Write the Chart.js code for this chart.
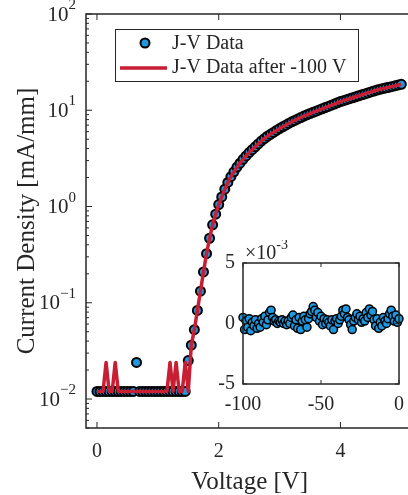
<!DOCTYPE html>
<html lang="en">
<head>
  <meta charset="UTF-8">
  <title>J-V Data</title>
  <script src="https://cdn.jsdelivr.net/npm/chart.js"></script>
  <style>
    html, body { margin: 0; padding: 0; background: #fff; overflow: hidden; width: 408px; height: 495px; }
    #main { position: absolute; left: 0; top: 0; }
    #inset { position: absolute; left: 200px; top: 240px; }
  </style>
</head>
<body>
  <canvas id="main" width="420" height="495"></canvas>
  <canvas id="inset" width="208" height="200"></canvas>

  <script>
    // Forward sweep voltage [V]
    const voltage = [
      0, 0.05, 0.1, 0.15, 0.2, 0.25, 0.3, 0.35, 0.4, 0.45,
      0.5, 0.55, 0.6, 0.65, 0.7, 0.75, 0.8, 0.85, 0.9, 0.95,
      1, 1.05, 1.1, 1.15, 1.2, 1.25, 1.3, 1.35, 1.4, 1.45,
      1.5, 1.55, 1.6, 1.65, 1.7, 1.75, 1.8, 1.85, 1.9, 1.95,
      2, 2.05, 2.1, 2.15, 2.2, 2.25, 2.3, 2.35, 2.4, 2.45,
      2.5, 2.55, 2.6, 2.65, 2.7, 2.75, 2.8, 2.85, 2.9, 2.95,
      3, 3.05, 3.1, 3.15, 3.2, 3.25, 3.3, 3.35, 3.4, 3.45,
      3.5, 3.55, 3.6, 3.65, 3.7, 3.75, 3.8, 3.85, 3.9, 3.95,
      4, 4.05, 4.1, 4.15, 4.2, 4.25, 4.3, 4.35, 4.4, 4.45,
      4.5, 4.55, 4.6, 4.65, 4.7, 4.75, 4.8, 4.85, 4.9, 4.95,
      5
    ];

    // Current density [mA/mm]
    const jvData = [
      0.012, 0.012, 0.012, 0.012, 0.012, 0.012, 0.012, 0.012, 0.012, 0.012,
      0.012, 0.012, 0.012, 0.024, 0.012, 0.012, 0.012, 0.012, 0.012, 0.012,
      0.012, 0.012, 0.012, 0.012, 0.012, 0.012, 0.012, 0.012, 0.012, 0.012,
      0.0251, 0.0363, 0.0525, 0.0832, 0.132, 0.209, 0.324, 0.468, 0.646, 0.832,
      1.047, 1.259, 1.514, 1.778, 2.042, 2.291, 2.570, 2.818, 3.090, 3.350,
      3.63, 3.89, 4.17, 4.47, 4.79, 5.07, 5.37, 5.62, 5.89, 6.17,
      6.46, 6.73, 7.00, 7.29, 7.59, 7.85, 8.13, 8.41, 8.71, 8.97,
      9.25, 9.51, 9.77, 10.07, 10.35, 10.66, 10.96, 11.30, 11.61, 11.97,
      12.30, 12.59, 12.88, 13.18, 13.49, 13.80, 14.13, 14.45, 14.79, 15.14,
      15.49, 15.85, 16.22, 16.52, 16.79, 17.10, 17.38, 17.70, 17.99, 18.32,
      18.62
    ];

    const jvAfter = [
      0.012, 0.012, 0.012, 0.024, 0.012, 0.012, 0.024, 0.012, 0.012, 0.012,
      0.012, 0.012, 0.012, 0.012, 0.012, 0.012, 0.012, 0.012, 0.012, 0.012,
      0.012, 0.012, 0.012, 0.012, 0.024, 0.012, 0.024, 0.012, 0.012, 0.024,
      0.012, 0.0363, 0.0525, 0.0832, 0.132, 0.209, 0.324, 0.468, 0.646, 0.832,
      1.047, 1.259, 1.514, 1.778, 2.042, 2.291, 2.570, 2.818, 3.090, 3.350,
      3.63, 3.89, 4.17, 4.47, 4.79, 5.07, 5.37, 5.62, 5.89, 6.17,
      6.46, 6.73, 7.00, 7.29, 7.59, 7.85, 8.13, 8.41, 8.71, 8.97,
      9.25, 9.51, 9.77, 10.07, 10.35, 10.66, 10.96, 11.30, 11.61, 11.97,
      12.30, 12.59, 12.88, 13.18, 13.49, 13.80, 14.13, 14.45, 14.79, 15.14,
      15.49, 15.85, 16.22, 16.52, 16.79, 17.10, 17.38, 17.70, 17.99, 18.32,
      18.62
    ];

    // Inset: reverse sweep to -100 V, current in units of 1e-3 mA/mm
    const insetVoltage = [
      -100, -99, -98, -97, -96, -95, -94, -93, -92, -91,
      -90, -89, -88, -87, -86, -85, -84, -83, -82, -81,
      -80, -79, -78, -77, -76, -75, -74, -73, -72, -71,
      -70, -69, -68, -67, -66, -65, -64, -63, -62, -61,
      -60, -59, -58, -57, -56, -55, -54, -53, -52, -51,
      -50, -49, -48, -47, -46, -45, -44, -43, -42, -41,
      -40, -39, -38, -37, -36, -35, -34, -33, -32, -31,
      -30, -29, -28, -27, -26, -25, -24, -23, -22, -21,
      -20, -19, -18, -17, -16, -15, -14, -13, -12, -11,
      -10, -9, -8, -7, -6, -5, -4, -3, -2, -1,
      0
    ];
    const insetJ = [
      0.5, -0.5, 0.2, -0.3, 0.4, -0.6, 0.1, -0.2, 0.3, -0.4,
      0.0, -0.3, 0.4, 0.1, 0.6, -0.1, 0.3, 0.9, 1.1, 0.5,
      0.2, 0.3, 0.0, 0.2, 0.1, 0.3, 0.0, 0.2, -0.1, 0.2,
      0.0, 0.5, 0.7, -0.2, 0.3, -0.4, 0.5, -0.5, 0.2, 0.6,
      0.3, -0.3, 0.4, 0.8, 1.0, 1.4, 1.1, 0.5, 0.9, 0.2,
      0.6, -0.1, 0.4, 0.0, 0.3, 0.1, -0.2, 0.3, -0.5, 0.2,
      0.4, 0.0, 0.3, 0.6, 1.1, 0.8, 1.2, 0.5, 0.3, -0.1,
      -0.5, 0.2, 0.5, 0.8, 0.3, 0.6, 0.1, 0.4, 0.2, 0.9,
      0.5, 1.2, 0.7, 1.0, 0.3, -0.2, 0.4, -0.4, 0.1, -0.2,
      0.5, 0.2, 0.0, 0.4, 0.8, 1.1, 0.6, 0.2, 0.7, 0.1,
      0.4
    ];

    const xTicks = [0, 2, 4];
    const xTickLabels = ['0', '2', '4'];
    const yTicks = [0.01, 0.1, 1, 10, 100];
    const yTickExps = ['\u22122', '\u22121', '0', '1', '2'];
    const insetXTicks = [-100, -50, 0];
    const insetXTickLabels = ['-100', '-50', '0'];
    const insetYTicks = [-5, 0, 5];
    const insetYTickLabels = ['-5', '0', '5'];
    const legendLabels = ['J-V Data', 'J-V Data after -100 V'];

    const FONT = "'Liberation Serif', 'Times New Roman', serif";
    const INK = '#262626';
    const BLUE = '#1f98e0';
    const RED = '#c81e34';

    function pts(xs, ys) {
      return xs.map((v, i) => ({ x: v, y: ys[i] }));
    }

    // "10" with a raised exponent, right aligned on xRight
    function supLabel(ctx, base, exp, xRight, yMid, size, expSize) {
      ctx.font = size + 'px ' + FONT;
      const wb = ctx.measureText(base).width;
      ctx.font = expSize + 'px ' + FONT;
      const we = ctx.measureText(exp).width;
      const x0 = xRight - wb - we;
      ctx.textAlign = 'left';
      ctx.textBaseline = 'alphabetic';
      ctx.font = size + 'px ' + FONT;
      ctx.fillText(base, x0, yMid + 12.5);
      ctx.font = expSize + 'px ' + FONT;
      ctx.fillText(exp, x0 + wb, yMid + 1);
    }

    const mainFrame = {
      id: 'mainFrame',
      afterDraw(chart) {
        const { ctx, chartArea: a } = chart;
        const x = chart.scales.x, y = chart.scales.y;
        ctx.save();

        // box
        ctx.strokeStyle = INK;
        ctx.lineWidth = 1.5;
        ctx.strokeRect(a.left, a.top, a.right - a.left, a.bottom - a.top);

        // ticks (inward); the right side falls outside the picture
        ctx.lineWidth = 1;
        ctx.beginPath();
        xTicks.forEach(v => {
          const px = x.getPixelForValue(v);
          ctx.moveTo(px, a.bottom); ctx.lineTo(px, a.bottom - 6);
          ctx.moveTo(px, a.top); ctx.lineTo(px, a.top + 6);
        });
        for (let e = -3; e <= 2; e++) {
          for (let m = 1; m <= 9; m++) {
            const v = m * Math.pow(10, e);
            if (v < y.min * 0.999 || v > y.max * 1.001) continue;
            const py = y.getPixelForValue(v);
            const len = m === 1 ? 6 : 3;
            ctx.moveTo(a.left, py); ctx.lineTo(a.left + len, py);
          }
        }
        ctx.stroke();

        // tick labels
        ctx.fillStyle = INK;
        ctx.font = '20px ' + FONT;
        ctx.textAlign = 'center';
        ctx.textBaseline = 'middle';
        xTicks.forEach((v, i) => ctx.fillText(xTickLabels[i], x.getPixelForValue(v), 452));
        yTicks.forEach((v, i) => supLabel(ctx, '10', yTickExps[i], 76, y.getPixelForValue(v) - 6, 21, 15));

        // axis titles
        ctx.font = '25px ' + FONT;
        ctx.textAlign = 'center';
        ctx.textBaseline = 'middle';
        ctx.fillText('Voltage [V]', (a.left + a.right) / 2, 482);
        ctx.save();
        ctx.translate(27, (a.top + a.bottom) / 2);
        ctx.rotate(-Math.PI / 2);
        ctx.fillText('Current Density [mA/mm]', 0, 0);
        ctx.restore();

        // legend
        ctx.fillStyle = '#fff';
        ctx.fillRect(115, 29, 243, 52);
        ctx.strokeStyle = INK;
        ctx.lineWidth = 1;
        ctx.strokeRect(115.5, 29.5, 243, 52);
        ctx.beginPath();
        ctx.arc(145, 43, 4.5, 0, Math.PI * 2);
        ctx.fillStyle = BLUE;
        ctx.fill();
        ctx.lineWidth = 2;
        ctx.strokeStyle = '#000';
        ctx.stroke();
        ctx.beginPath();
        ctx.moveTo(120, 68); ctx.lineTo(167, 68);
        ctx.strokeStyle = RED;
        ctx.lineWidth = 3.5;
        ctx.stroke();
        ctx.fillStyle = INK;
        ctx.font = '20px ' + FONT;
        ctx.textAlign = 'left';
        ctx.textBaseline = 'middle';
        ctx.fillText(legendLabels[0], 172, 44);
        ctx.fillText(legendLabels[1], 172, 68);

        ctx.restore();
      }
    };

    const insetFrame = {
      id: 'insetFrame',
      beforeDatasetsDraw(chart) {
        const { ctx, chartArea: a } = chart;
        ctx.save();
        ctx.fillStyle = '#fff';
        ctx.fillRect(a.left, a.top, a.right - a.left, a.bottom - a.top);
        ctx.restore();
      },
      afterDraw(chart) {
        const { ctx, chartArea: a } = chart;
        const x = chart.scales.x, y = chart.scales.y;
        ctx.save();
        ctx.strokeStyle = INK;
        ctx.lineWidth = 1.5;
        ctx.strokeRect(a.left, a.top, a.right - a.left, a.bottom - a.top);

        ctx.lineWidth = 1;
        ctx.beginPath();
        insetXTicks.forEach(v => {
          const px = x.getPixelForValue(v);
          ctx.moveTo(px, a.bottom); ctx.lineTo(px, a.bottom - 4);
          ctx.moveTo(px, a.top); ctx.lineTo(px, a.top + 4);
        });
        insetYTicks.forEach(v => {
          const py = y.getPixelForValue(v);
          ctx.moveTo(a.left, py); ctx.lineTo(a.left + 4, py);
          ctx.moveTo(a.right, py); ctx.lineTo(a.right - 4, py);
        });
        ctx.stroke();

        ctx.fillStyle = INK;
        ctx.font = '20px ' + FONT;
        ctx.textAlign = 'center';
        ctx.textBaseline = 'middle';
        insetXTicks.forEach((v, i) => ctx.fillText(insetXTickLabels[i], x.getPixelForValue(v), 165));
        ctx.textAlign = 'right';
        insetYTicks.forEach((v, i) => ctx.fillText(insetYTickLabels[i], 35, y.getPixelForValue(v)));

        // exponent multiplier
        ctx.textAlign = 'left';
        ctx.textBaseline = 'alphabetic';
        ctx.font = '20px ' + FONT;
        const wx = ctx.measureText('\u00d710').width;
        ctx.fillText('\u00d710', 45, 19);
        ctx.font = '14px ' + FONT;
        ctx.fillText('-3', 45 + wx, 9);
        ctx.restore();
      }
    };

    new Chart(document.getElementById('main'), {
      type: 'scatter',
      data: {
        datasets: [
          {
            label: legendLabels[1],
            data: pts(voltage, jvAfter),
            showLine: true,
            borderColor: RED,
            borderWidth: 3.5,
            borderJoinStyle: 'round',
            pointRadius: 0,
            tension: 0,
            order: 0,
            clip: false
          },
          {
            label: legendLabels[0],
            data: pts(voltage, jvData),
            pointRadius: 4.5,
            pointBackgroundColor: BLUE,
            pointBorderColor: '#000',
            pointBorderWidth: 2,
            order: 1,
            clip: false
          }
        ]
      },
      options: {
        responsive: false,
        animation: false,
        devicePixelRatio: 1,
        events: [],
        layout: { padding: { left: 0, top: 14, right: 5, bottom: 0 } },
        plugins: { legend: { display: false }, tooltip: { enabled: false } },
        scales: {
          x: {
            type: 'linear', min: -0.18, max: 5.2,
            grid: { display: false }, border: { display: false }, ticks: { display: false },
            afterFit(s) { s.height = 67; }
          },
          y: {
            type: 'logarithmic', min: 0.005, max: 100,
            grid: { display: false }, border: { display: false }, ticks: { display: false },
            afterFit(s) { s.width = 86; }
          }
        }
      },
      plugins: [mainFrame]
    });

    new Chart(document.getElementById('inset'), {
      type: 'scatter',
      data: {
        datasets: [{
          data: pts(insetVoltage, insetJ),
          pointRadius: 4,
          pointBackgroundColor: BLUE,
          pointBorderColor: '#000',
          pointBorderWidth: 1.5,
          clip: false
        }]
      },
      options: {
        responsive: false,
        animation: false,
        devicePixelRatio: 1,
        events: [],
        layout: { padding: { left: 0, top: 23, right: 9, bottom: 0 } },
        plugins: { legend: { display: false }, tooltip: { enabled: false } },
        scales: {
          x: {
            type: 'linear', min: -100, max: 0,
            grid: { display: false }, border: { display: false }, ticks: { display: false },
            afterFit(s) { s.height = 56; }
          },
          y: {
            type: 'linear', min: -5, max: 5,
            grid: { display: false }, border: { display: false }, ticks: { display: false },
            afterFit(s) { s.width = 43; }
          }
        }
      },
      plugins: [insetFrame]
    });
  </script>
</body>
</html>
